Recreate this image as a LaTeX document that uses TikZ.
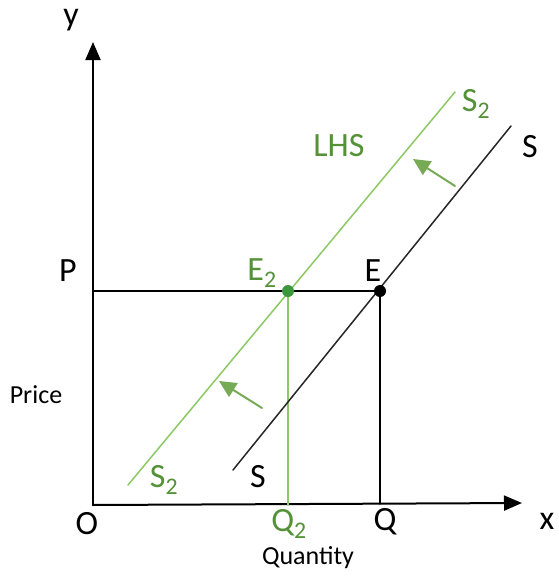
\documentclass[tikz,border=0pt]{standalone}
\usepackage{fontspec}
\setmainfont{Carlito}
\usetikzlibrary{arrows.meta}
\definecolor{linegreen}{RGB}{140,200,100}
\definecolor{textgreen}{RGB}{84,145,55}
\definecolor{dotgreen}{RGB}{60,150,60}
\tikzset{
  lbl/.style={inner sep=0pt, font=\fontsize{34}{38}\selectfont},
  glbl/.style={lbl, text=textgreen},
  small/.style={inner sep=0pt, font=\fontsize{26}{30}\selectfont},
  axis/.style={line width=2pt, -{Triangle[length=18pt,width=15pt]}},
  shiftarrow/.style={linegreen!85!black, line width=2pt, -{Triangle[length=17pt,width=16pt]}}
}
\begin{document}
\begin{tikzpicture}[x=1pt, y=-1pt, line join=round, line cap=round]
            \useasboundingbox (0,0) rectangle (558,576);
            % points
            \coordinate (O) at (93,505);
            \coordinate (ytip) at (93,42);
            \coordinate (xtip) at (522,503);
            \coordinate (Ppt) at (93,291);
            \coordinate (E) at (380,291);
            \coordinate (E2) at (288,291);
            \coordinate (Qpt) at (380,504);
            \coordinate (Q2pt) at (288,505);
            \coordinate (Slow) at (233,470);
            \coordinate (Shigh) at (511,126);
            \coordinate (S2low) at (128,485);
            \coordinate (S2high) at (455,92);
            % axes
            \draw[axis] (O)--(ytip);
            \draw[axis] (O)--(xtip);
            \node[lbl] (ylab) at (71,20) {y};
            \node[lbl] (xlab) at (547,521) {x};
            \node[lbl] (olab) at (87,524) {O};
            \node[lbl] (plab) at (68,271) {P};
            \node[small] (price) at (36,395) {Price};
            \node[small] (qty) at (308,558) {Quantity};
            % price line and drop lines
            \draw[line width=1.2pt] (Ppt)--(E);
            \draw[line width=1.2pt] (E)--(Qpt);
            \draw[linegreen, line width=1.5pt] (E2)--(Q2pt);
            % supply curves
            \draw[black!85, line width=1.5pt] (Slow)--(Shigh);
            \draw[linegreen, line width=1.5pt] (S2low)--(S2high);
            % shift arrows
            \coordinate (a1s) at (455,186);
            \coordinate (a1e) at (413,159);
            \coordinate (a2s) at (262,408);
            \coordinate (a2e) at (219,381);
            \draw[shiftarrow] (a1s)--(a1e);
            \draw[shiftarrow] (a2s)--(a2e);
            % equilibria
            \fill[black] (E) circle (6);
            \fill[dotgreen] (E2) circle (6);
            \node[lbl] (elab) at (373,271) {E};
            \node[glbl] (e2lab) at (262,273) {E\textsubscript{2}};
            \node[lbl] (qlab) at (385,522) {Q};
            \node[glbl] (q2lab) at (289,524) {Q\textsubscript{2}};
            % curve labels
            \node[lbl] (shl) at (530,147) {S};
            \node[lbl] (sll) at (258,477) {S};
            \node[glbl] (s2hl) at (476,104) {S\textsubscript{2}};
            \node[glbl] (s2ll) at (164,480) {S\textsubscript{2}};
            \node[glbl] (lhs) at (339,146) {LHS};
        \end{tikzpicture}
\end{document}
